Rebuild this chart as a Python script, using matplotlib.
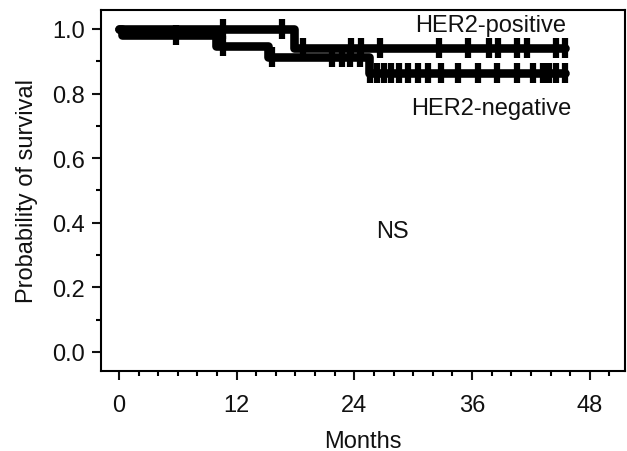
import matplotlib
matplotlib.use("Agg")
import matplotlib.pyplot as plt
from matplotlib.ticker import MultipleLocator

plt.rcParams['font.family'] = ['Liberation Sans', 'DejaVu Sans']

# HER2-positive: step times and survival levels
pos_times = [0.0, 17.8, 45.5]
pos_surv = [1.0, 0.94, 0.94]
pos_cens = [10.6, 16.6, 18.8, 23.7, 24.7, 26.6, 32.6, 35.6, 37.7, 38.6,
            40.6, 41.6, 44.6, 45.5]

# HER2-negative
neg_times = [0.0, 0.3, 9.9, 15.2, 25.5, 45.5]
neg_surv = [1.0, 0.98, 0.947, 0.913, 0.865, 0.865]
neg_cens = [5.8, 10.6, 15.6, 21.7, 22.7, 23.6, 24.6, 25.6, 26.3, 27.0,
            27.7, 28.6, 29.5, 30.5, 31.5, 32.8, 34.6, 36.6, 38.5, 40.6,
            42.2, 43.2, 43.8, 44.6, 45.5]

x_ticks = [0, 12, 24, 36, 48]
y_ticks = [0.0, 0.2, 0.4, 0.6, 0.8, 1.0]


def surv_at(times, surv, t):
    val = surv[0]
    for ti, si in zip(times, surv):
        if ti <= t:
            val = si
    return val


fig = plt.figure(figsize=(6.27, 4.52), dpi=100)
ax = fig.add_axes([0.161, 0.177, 0.836, 0.799])

lw = 6.2
for times, surv, cens in [(pos_times, pos_surv, pos_cens),
                          (neg_times, neg_surv, neg_cens)]:
    ax.step(times, surv, where='post', color='black', lw=lw,
            solid_capstyle='round', solid_joinstyle='round')
    cy = [surv_at(times, surv, c) for c in cens]
    ax.plot(cens, cy, ls='none', marker='|', ms=15, mew=4.5, color='black')

ax.set_xlim(-1.83, 51.6)
ax.set_ylim(-0.059, 1.059)
ax.set_xticks(x_ticks)
ax.set_yticks(y_ticks)
ax.set_yticklabels([f"{v:.1f}" for v in y_ticks])
ax.xaxis.set_minor_locator(MultipleLocator(2))
ax.yaxis.set_minor_locator(MultipleLocator(0.1))
ax.tick_params(which='major', direction='out', length=6.5, width=1.5,
               labelsize=17, colors='#111111')
ax.tick_params(axis='x', which='major', pad=10)
ax.tick_params(axis='y', which='major', pad=5)
ax.tick_params(which='minor', direction='out', length=3.5, width=1.5)
for s in ax.spines.values():
    s.set_linewidth(1.5)

ax.set_xlabel('Months', fontsize=17, labelpad=10, color='#111111')
ax.set_ylabel('Probability of survival', fontsize=17, labelpad=10,
              color='#111111')

ax.text(37.9, 1.012, 'HER2-positive', fontsize=17, ha='center', va='center',
        color='#111111')
ax.text(38.0, 0.756, 'HER2-negative', fontsize=17, ha='center', va='center',
        color='#111111')
ax.text(27.9, 0.373, 'NS', fontsize=17, ha='center', va='center',
        color='#111111')

fig.savefig('out.png', dpi=100)
